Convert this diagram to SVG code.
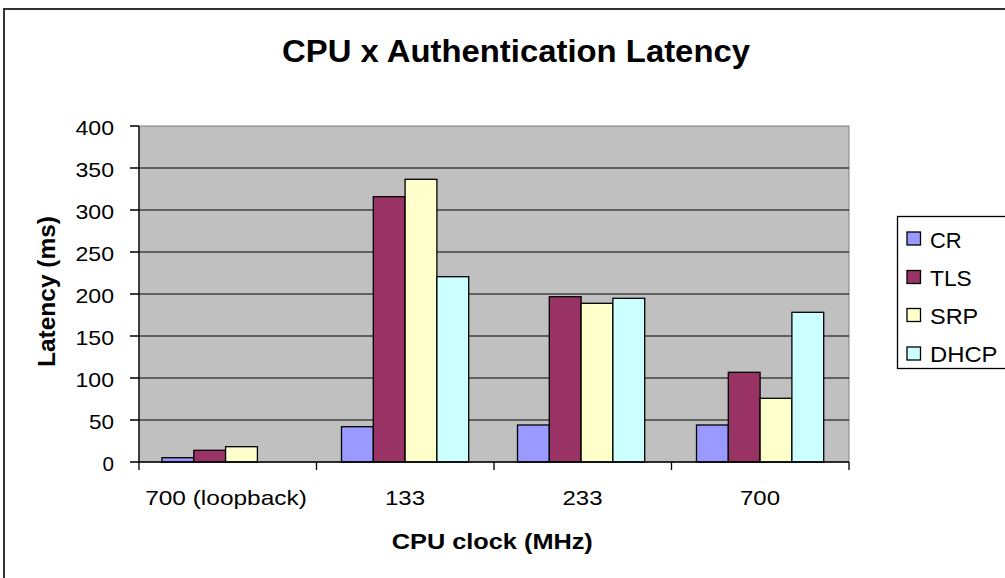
<svg xmlns="http://www.w3.org/2000/svg" width="1005" height="578" viewBox="0 0 1005 578">
<style>
.t{font-family:"Liberation Sans",Arial,sans-serif;fill:#000}
.b{font-weight:bold}
.ax{font-size:21px}
.grid{stroke:#000;stroke-width:1.1}
.axis{stroke:#000;stroke-width:1.3;fill:none}
.bar{stroke:#000;stroke-width:1.3}
.cr{fill:#9999FF}
.tls{fill:#993366}
.srp{fill:#FFFFCC}
.dhcp{fill:#CCFFFF}
</style>
<rect x="0" y="0" width="1005" height="578" fill="#fff"/>
<rect id="chart-frame" x="4" y="9" width="1010" height="580" fill="#fff" stroke="#333" stroke-width="2"/>
<g id="title">
<text class="t b" x="516" y="62" font-size="32" text-anchor="middle" textLength="468" lengthAdjust="spacingAndGlyphs">CPU x Authentication Latency</text>
</g>
<g id="plot-area">
<rect x="139" y="126" width="710" height="336" fill="#C0C0C0" stroke="#808080" stroke-width="1"/>
<g id="gridlines">
<line class="grid" x1="139" y1="168" x2="849" y2="168"/>
<line class="grid" x1="139" y1="210" x2="849" y2="210"/>
<line class="grid" x1="139" y1="252" x2="849" y2="252"/>
<line class="grid" x1="139" y1="294" x2="849" y2="294"/>
<line class="grid" x1="139" y1="336" x2="849" y2="336"/>
<line class="grid" x1="139" y1="378" x2="849" y2="378"/>
<line class="grid" x1="139" y1="420" x2="849" y2="420"/>
</g>
</g>
<g id="series-CR">
<rect class="bar cr" x="162" y="457.7" width="31.8" height="4.3"/>
<rect class="bar cr" x="341.5" y="426.7" width="31.8" height="35.3"/>
<rect class="bar cr" x="517.5" y="425" width="31.8" height="37"/>
<rect class="bar cr" x="696.5" y="425" width="31.8" height="37"/>
</g>
<g id="series-TLS">
<rect class="bar tls" x="193.8" y="450.3" width="31.8" height="11.7"/>
<rect class="bar tls" x="373.3" y="196.7" width="31.8" height="265.3"/>
<rect class="bar tls" x="549.3" y="296.7" width="31.8" height="165.3"/>
<rect class="bar tls" x="728.3" y="372.3" width="31.8" height="89.7"/>
</g>
<g id="series-SRP">
<rect class="bar srp" x="225.6" y="446.7" width="31.8" height="15.3"/>
<rect class="bar srp" x="405.1" y="179.3" width="31.8" height="282.7"/>
<rect class="bar srp" x="581.1" y="303.3" width="31.8" height="158.7"/>
<rect class="bar srp" x="760.1" y="398.3" width="31.8" height="63.7"/>
</g>
<g id="series-DHCP">
<rect class="bar dhcp" x="436.9" y="276.7" width="31.8" height="185.3"/>
<rect class="bar dhcp" x="612.9" y="298.3" width="31.8" height="163.7"/>
<rect class="bar dhcp" x="791.9" y="312.3" width="31.8" height="149.7"/>
</g>
<g id="axes">
<path class="axis" d="M139,126 V462 H849"/>
<path class="axis" d="M130,126 H139 M130,168 H139 M130,210 H139 M130,252 H139 M130,294 H139 M130,336 H139 M130,378 H139 M130,420 H139 M130,462 H139"/>
<path class="axis" d="M139,462 V470 M316.5,462 V470 M494,462 V470 M671.5,462 V470 M849,462 V470"/>
</g>
<g id="y-labels" class="t ax" text-anchor="end">
<text x="114" y="135" textLength="38.5" lengthAdjust="spacingAndGlyphs">400</text>
<text x="114" y="177" textLength="38.5" lengthAdjust="spacingAndGlyphs">350</text>
<text x="114" y="219" textLength="38.5" lengthAdjust="spacingAndGlyphs">300</text>
<text x="114" y="261" textLength="38.5" lengthAdjust="spacingAndGlyphs">250</text>
<text x="114" y="303" textLength="38.5" lengthAdjust="spacingAndGlyphs">200</text>
<text x="114" y="345" textLength="38.5" lengthAdjust="spacingAndGlyphs">150</text>
<text x="114" y="387" textLength="38.5" lengthAdjust="spacingAndGlyphs">100</text>
<text x="114" y="429" textLength="25" lengthAdjust="spacingAndGlyphs">50</text>
<text x="114" y="470.5" textLength="11.5" lengthAdjust="spacingAndGlyphs">0</text>
</g>
<g id="x-labels" class="t ax" text-anchor="middle">
<text x="226" y="505" textLength="161.7" lengthAdjust="spacingAndGlyphs">700 (loopback)</text>
<text x="405" y="505" textLength="40" lengthAdjust="spacingAndGlyphs">133</text>
<text x="582.5" y="505" textLength="40" lengthAdjust="spacingAndGlyphs">233</text>
<text x="760" y="505" textLength="40" lengthAdjust="spacingAndGlyphs">700</text>
</g>
<g id="axis-titles">
<text class="t b" x="492.3" y="549" font-size="22" text-anchor="middle" textLength="201" lengthAdjust="spacingAndGlyphs">CPU clock (MHz)</text>
<text class="t b" transform="translate(55,291.5) rotate(-90)" x="0" y="0" font-size="24" text-anchor="middle" textLength="151" lengthAdjust="spacingAndGlyphs">Latency (ms)</text>
</g>
<g id="legend">
<rect x="897.5" y="216.5" width="115" height="152" fill="#fff" stroke="#000" stroke-width="1.3"/>
<g id="legend-CR"><rect class="bar cr" x="907" y="232" width="13.5" height="13"/><text class="t" x="930" y="247.5" font-size="22" textLength="31.7" lengthAdjust="spacingAndGlyphs">CR</text></g>
<g id="legend-TLS"><rect class="bar tls" x="907" y="270.5" width="13.5" height="13"/><text class="t" x="930" y="285.5" font-size="22" textLength="41.7" lengthAdjust="spacingAndGlyphs">TLS</text></g>
<g id="legend-SRP"><rect class="bar srp" x="907" y="308.5" width="13.5" height="13"/><text class="t" x="930" y="323.5" font-size="22" textLength="48.3" lengthAdjust="spacingAndGlyphs">SRP</text></g>
<g id="legend-DHCP"><rect class="bar dhcp" x="907" y="347" width="13.5" height="13"/><text class="t" x="930" y="361.5" font-size="22" textLength="67.5" lengthAdjust="spacingAndGlyphs">DHCP</text></g>
</g>
</svg>
